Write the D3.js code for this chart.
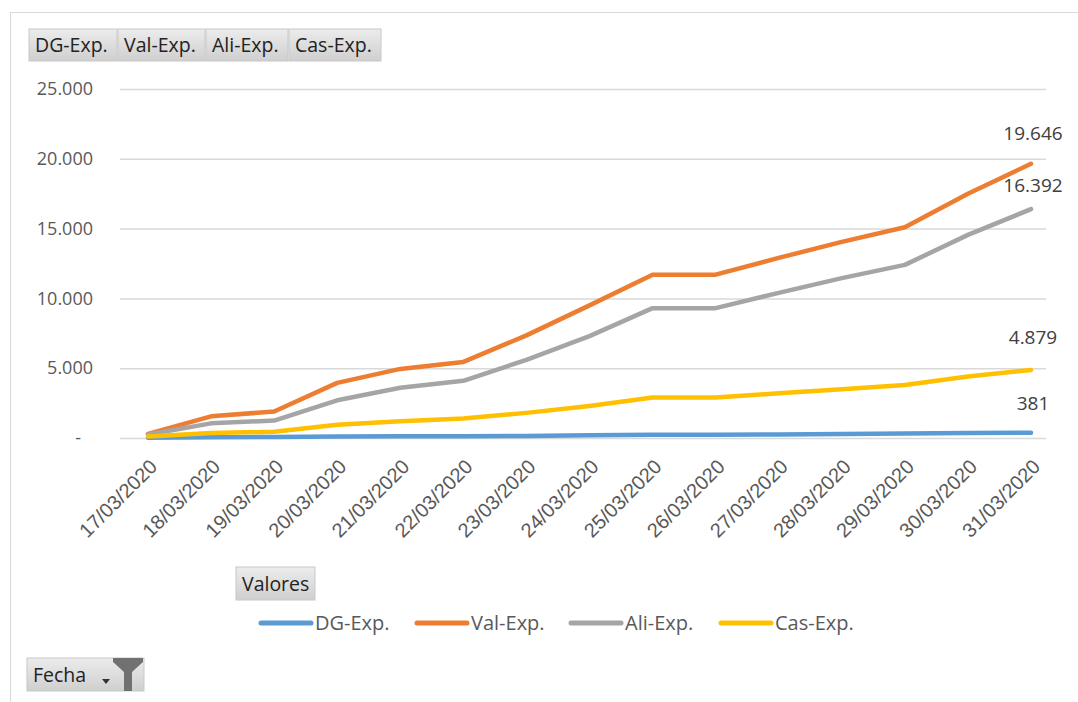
<!DOCTYPE html>
<html>
<head>
<meta charset="utf-8">
<script src="https://cdn.jsdelivr.net/npm/d3@7"></script>
<style>
  body { margin: 0; background: #fff; }
  svg { display: block; font-family: "Open Sans", sans-serif; }
</style>
</head>
<body>
<div id="chart"></div>
<script>
// data
var dates = ["17/03/2020","18/03/2020","19/03/2020","20/03/2020","21/03/2020","22/03/2020","23/03/2020",
             "24/03/2020","25/03/2020","26/03/2020","27/03/2020","28/03/2020","29/03/2020","30/03/2020","31/03/2020"];
var seriesNames = ["DG-Exp.", "Val-Exp.", "Ali-Exp.", "Cas-Exp."];
var seriesColors = ["#5b9bd5", "#ed7d31", "#a5a5a5", "#ffc000"];
var dgExp  = [20, 50, 70, 100, 120, 130, 150, 200, 230, 230, 250, 290, 320, 360, 381];
var valExp = [300, 1550, 1900, 3950, 4950, 5450, 7350, 9500, 11700, 11700, 12900, 14050, 15100, 17500, 19646];
var aliExp = [250, 1050, 1250, 2700, 3600, 4100, 5600, 7300, 9300, 9300, 10400, 11450, 12400, 14550, 16392];
var casExp = [100, 350, 450, 950, 1200, 1400, 1800, 2300, 2900, 2900, 3200, 3500, 3800, 4400, 4879];
var yTicks = [0, 5000, 10000, 15000, 20000, 25000];

var allSeries = [dgExp, valExp, aliExp, casExp];

var width = 1078, height = 702;
var svg = d3.select("#chart").append("svg")
    .attr("width", width)
    .attr("height", height);

// outer chart frame (runs off the right and bottom edges)
svg.append("rect")
    .attr("x", 10.5).attr("y", 12.5)
    .attr("width", 1100).attr("height", 720)
    .attr("fill", "#fff")
    .attr("stroke", "#d9d9d9");

// button gradient
var grad = svg.append("defs").append("linearGradient")
    .attr("id", "btn").attr("x1", 0).attr("y1", 0).attr("x2", 0).attr("y2", 1);
grad.append("stop").attr("offset", "0%").attr("stop-color", "#ececec");
grad.append("stop").attr("offset", "100%").attr("stop-color", "#cfcfcf");

function button(x, y, w, h, label) {
  var g = svg.append("g").attr("transform", "translate(" + x + "," + y + ")");
  g.append("rect").attr("width", w).attr("height", h)
      .attr("fill", "url(#btn)").attr("stroke", "#c8c8c8");
  g.append("text").attr("x", 6).attr("y", h / 2 + 7)
      .attr("font-size", 19.5).attr("fill", "#222")
      .text(label);
  return g;
}

// field buttons on top
var btnX = [29, 118, 206, 289], btnW = [88, 87, 82, 92];
seriesNames.forEach(function(n, i) { button(btnX[i], 29, btnW[i], 32, n); });

var margin = {left: 120, right: 1046, top: 89, bottom: 438};

var x = d3.scalePoint()
    .domain(dates)
    .range([148, 1031]);

var y = d3.scaleLinear()
    .domain([0, 25000])
    .range([margin.bottom, margin.top]);

// gridlines
svg.append("g").selectAll("line")
    .data(yTicks)
  .enter().append("line")
    .attr("x1", margin.left).attr("x2", margin.right)
    .attr("y1", function(d) { return y(d) + 0.5; })
    .attr("y2", function(d) { return y(d) + 0.5; })
    .attr("stroke", "#d9d9d9").attr("stroke-width", 1.5);

// y axis labels
var fmt = function(d) { return d === 0 ? "-" : d3.format(",")(d).replace(/,/g, "."); };
var yAxis = svg.append("g")
    .attr("transform", "translate(93,0)")
    .call(d3.axisLeft(y).tickValues(yTicks).tickSize(0).tickPadding(0).tickFormat(fmt));
yAxis.select(".domain").remove();
yAxis.selectAll("text")
    .attr("font-size", 18).attr("fill", "#595959")
    .attr("font-family", "Open Sans, sans-serif")
    .attr("dx", function(d) { return d === 0 ? -12 : 0; });

// x axis labels, rotated
var xAxis = svg.append("g")
    .attr("transform", "translate(0," + (margin.bottom + 20) + ")")
    .call(d3.axisBottom(x).tickSize(0).tickPadding(0));
xAxis.select(".domain").remove();
xAxis.selectAll("text")
    .attr("font-size", 20).attr("fill", "#595959")
    .attr("text-anchor", "end")
    .attr("dy", "0.7em")
    .attr("transform", "rotate(-45)");

// lines
var line = d3.line()
    .x(function(d, i) { return x(dates[i]); })
    .y(function(d) { return y(d); });

svg.append("g").selectAll("path")
    .data(allSeries)
  .enter().append("path")
    .attr("d", line)
    .attr("fill", "none")
    .attr("stroke", function(d, i) { return seriesColors[i]; })
    .attr("stroke-width", 4.5)
    .attr("stroke-linejoin", "round")
    .attr("stroke-linecap", "round");

// end labels
var labelDy = [-23, -24, -17, -26];
svg.append("g").selectAll("text")
    .data(allSeries)
  .enter().append("text")
    .attr("x", x(dates[dates.length - 1]) + 2)
    .attr("y", function(d, i) { return y(d[d.length - 1]) + labelDy[i]; })
    .attr("text-anchor", "middle")
    .attr("font-size", 19).attr("fill", "#404040")
    .text(function(d) { return fmt(d[d.length - 1]); });

// Valores button + legend
button(236, 567, 79, 33, "Valores");

var legX = [258, 414, 568, 718];
var leg = svg.append("g").selectAll("g")
    .data(seriesNames)
  .enter().append("g")
    .attr("transform", function(d, i) { return "translate(" + legX[i] + ",623)"; });
leg.append("line")
    .attr("x1", 3).attr("x2", 53)
    .attr("stroke", function(d, i) { return seriesColors[i]; })
    .attr("stroke-width", 5).attr("stroke-linecap", "round");
leg.append("text")
    .attr("x", 57).attr("y", 7)
    .attr("font-size", 20).attr("fill", "#595959")
    .text(function(d) { return d; });

// Fecha button with dropdown arrow and filter icon
var fecha = button(27, 658, 117, 33, "Fecha");
fecha.append("path")
    .attr("d", "M75,21 l8,0 l-4,5 z")
    .attr("fill", "#333");
fecha.append("path")
    .attr("d", "M86,0 L116,0 L116,4 L105,14 L105,33 L97,33 L97,14 L86,4 Z")
    .attr("fill", "#717171");
</script>
</body>
</html>
